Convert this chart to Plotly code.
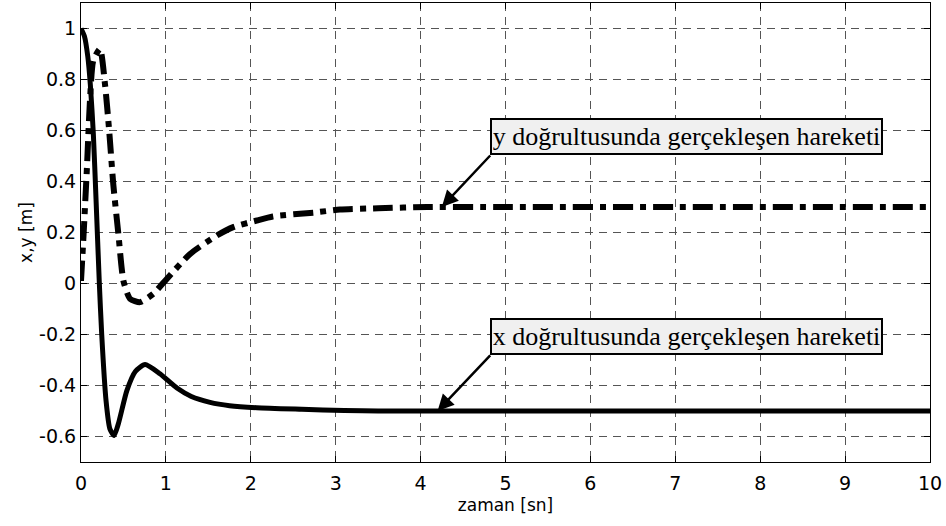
import plotly.graph_objects as go

# Time samples (s) and displacement (m) of the x-direction motion (solid line)
t_x = [0.0, 0.04, 0.08, 0.11, 0.145, 0.177, 0.216, 0.244, 0.295, 0.34, 0.39,
       0.44, 0.54, 0.64, 0.755, 0.93, 1.13, 1.3, 1.52, 1.75, 2.07, 2.6, 3.1,
       3.5, 5.0, 7.0, 10.0]
pos_x = [1.0, 0.97, 0.89, 0.78, 0.59, 0.33, 0.0, -0.2, -0.46, -0.57, -0.596,
         -0.55, -0.42, -0.345, -0.318, -0.354, -0.41, -0.443, -0.466, -0.479,
         -0.487, -0.493, -0.498, -0.5, -0.5, -0.5, -0.5]

# Time samples (s) and displacement (m) of the y-direction motion (dash-dot line)
t_y = [0.0, 0.03, 0.07, 0.106, 0.145, 0.224, 0.283, 0.334, 0.38, 0.44, 0.5,
       0.578, 0.696, 0.853, 1.01, 1.285, 1.6, 1.8, 2.07, 2.26, 2.74, 3.05, 3.5,
       4.08, 5.0, 7.0, 10.0]
pos_y = [0.01, 0.19, 0.455, 0.72, 0.875, 0.92, 0.78, 0.59, 0.39, 0.195, 0.01,
         -0.06, -0.073, -0.04, 0.018, 0.116, 0.188, 0.222, 0.247, 0.263, 0.278,
         0.29, 0.295, 0.3, 0.3, 0.3, 0.3]

x_ticks = [0, 1, 2, 3, 4, 5, 6, 7, 8, 9, 10]
x_tick_text = ["0", "1", "2", "3", "4", "5", "6", "7", "8", "9", "10"]
y_ticks = [-0.6, -0.4, -0.2, 0, 0.2, 0.4, 0.6, 0.8, 1.0]
y_tick_text = ["-0.6", "-0.4", "-0.2", "0", "0.2", "0.4", "0.6", "0.8", "1"]

label_y = "y doğrultusunda gerçekleşen hareketi"
label_x = "x doğrultusunda gerçekleşen hareketi"

sans = "DejaVu Sans, Liberation Sans, Arial"

fig = go.Figure()
fig.add_trace(go.Scatter(
    x=t_x, y=pos_x, mode="lines",
    line=dict(color="black", width=5, shape="spline", smoothing=0.6),
    showlegend=False, hoverinfo="skip",
))
fig.add_trace(go.Scatter(
    x=t_y, y=pos_y, mode="lines",
    line=dict(color="black", width=6, shape="spline", smoothing=0.6,
              dash="20px,7px,6px,7px"),
    showlegend=False, hoverinfo="skip",
))

axis_common = dict(
    showline=True, linecolor="black", linewidth=1, mirror="ticks",
    ticks="inside", ticklen=6, tickcolor="black", tickwidth=1,
    showgrid=True, gridcolor="#555555", gridwidth=1, griddash="8px,6px",
    zeroline=False,
    tickfont=dict(family=sans, size=19, color="black"),
)

fig.update_xaxes(
    range=[0, 10], tickvals=x_ticks, ticktext=x_tick_text,
    ticklabelstandoff=4,
    title=dict(text="zaman [sn]", standoff=6,
               font=dict(family=sans, size=17, color="black")),
    **axis_common,
)
fig.update_yaxes(
    range=[-0.7, 1.1], tickvals=y_ticks, ticktext=y_tick_text,
    ticklabelstandoff=0,
    title=dict(text="x,y [m]", standoff=2,
               font=dict(family=sans, size=17, color="black")),
    **axis_common,
)

box_style = dict(
    showarrow=True, arrowhead=2, arrowsize=1.3, arrowwidth=2.5,
    arrowcolor="black", standoff=0, startstandoff=0,
    axref="x", ayref="y", xanchor="left", yanchor="bottom",
    bgcolor="#f0f0f0", bordercolor="black", borderwidth=2, borderpad=1,
    width=387, height=31, align="center",
    font=dict(family="Liberation Serif, Times New Roman", size=26, color="black"),
)
fig.add_annotation(x=4.25, y=0.3, ax=4.82, ay=0.502, text=label_y, **box_style)
fig.add_annotation(x=4.2, y=-0.5, ax=4.82, ay=-0.282, text=label_x, **box_style)

fig.update_layout(
    width=946, height=526,
    margin=dict(l=81, r=16, t=3, b=64),
    plot_bgcolor="white", paper_bgcolor="white",
)

fig.write_html("out.html")
